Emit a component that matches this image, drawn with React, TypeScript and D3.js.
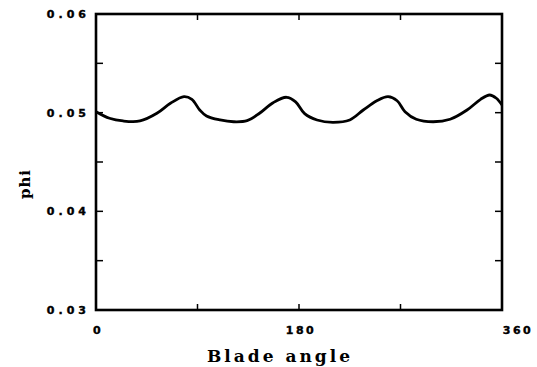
import React, { useEffect, useRef } from "react";
import * as d3 from "d3";

// blade angle (deg) and flow coefficient
const angle = [0, 12, 24, 39, 54, 66, 78, 85, 92, 98, 110, 122, 134, 145, 157, 169, 177, 185, 196, 210, 225, 237, 249, 259, 267, 274, 284, 299, 314, 329, 341, 349, 355, 360];
const phi = [0.0501, 0.04943, 0.04916, 0.04916, 0.04994, 0.05095, 0.05162, 0.05135, 0.05027, 0.04966, 0.04926, 0.04908, 0.04919, 0.04994, 0.05101, 0.05156, 0.0511, 0.0499, 0.04926, 0.04902, 0.04926, 0.05027, 0.05121, 0.05162, 0.05121, 0.0501, 0.04933, 0.04908, 0.04933, 0.05027, 0.05135, 0.05179, 0.05146, 0.05078];

const xMajor = [0, 180, 360];
const xMinor = [90, 270];
const yMajor = [0.03, 0.04, 0.05, 0.06];
const yMinor = [0.035, 0.045, 0.055];

export default function App() {
  const ref = useRef<SVGSVGElement>(null);

  useEffect(() => {
    const width = 537, height = 367;
    const margin = { top: 14, right: 35, bottom: 57, left: 96 };

    const svg = d3.select(ref.current);
    svg.selectAll("*").remove();

    const x = d3.scaleLinear().domain([0, 360]).range([margin.left, width - margin.right]);
    const y = d3.scaleLinear().domain([0.03, 0.06]).range([height - margin.bottom, margin.top]);

    const [x0, x1] = x.range();
    const [y0, y1] = y.range();

    // inner ticks on all four sides
    const ticks = svg.append("g").attr("stroke", "#000").attr("stroke-width", 1.5);
    [...xMajor.slice(1, -1), ...xMinor].forEach(v => {
      ticks.append("line").attr("x1", x(v)).attr("x2", x(v)).attr("y1", y0).attr("y2", y0 - 6);
      ticks.append("line").attr("x1", x(v)).attr("x2", x(v)).attr("y1", y1).attr("y2", y1 + 6);
    });
    [...yMajor.slice(1, -1), ...yMinor].forEach(v => {
      ticks.append("line").attr("x1", x0).attr("x2", x0 + 7).attr("y1", y(v)).attr("y2", y(v));
      ticks.append("line").attr("x1", x1).attr("x2", x1 - 7).attr("y1", y(v)).attr("y2", y(v));
    });

    svg.append("rect")
      .attr("x", x0).attr("y", y1)
      .attr("width", x1 - x0).attr("height", y0 - y1)
      .attr("fill", "none").attr("stroke", "#000").attr("stroke-width", 2.6);

    const line = d3.line<number>()
      .x((_, i) => x(angle[i]))
      .y(d => y(d))
      .curve(d3.curveCatmullRom);

    svg.append("path")
      .datum(phi)
      .attr("d", line)
      .attr("fill", "none")
      .attr("stroke", "#000")
      .attr("stroke-width", 2.8)
      .attr("stroke-linejoin", "round");

    const tickFont = "'DejaVu Sans', sans-serif";

    svg.append("g").selectAll("text")
      .data(xMajor)
      .enter()
      .append("text")
      .attr("x", (d, i) => x(d) + (i === xMajor.length - 1 ? 16 : 2))
      .attr("y", y0 + 24)
      .attr("text-anchor", "middle")
      .attr("font-family", tickFont)
      .attr("font-weight", "bold")
      .attr("font-size", 11)
      .attr("stroke", "#000")
      .attr("stroke-width", 0.4)
      .attr("letter-spacing", 2.5)
      .text(d => d);

    svg.append("g").selectAll("text")
      .data(yMajor)
      .enter()
      .append("text")
      .attr("x", x0 - 6)
      .attr("y", d => y(d) + 4)
      .attr("text-anchor", "end")
      .attr("font-family", tickFont)
      .attr("font-weight", "bold")
      .attr("font-size", 11)
      .attr("stroke", "#000")
      .attr("stroke-width", 0.4)
      .attr("letter-spacing", 4)
      .text(d => d3.format(".2f")(d));

    svg.append("text")
      .attr("x", 280)
      .attr("y", height - 5)
      .attr("text-anchor", "middle")
      .attr("font-family", "'DejaVu Serif', serif")
      .attr("font-weight", "bold")
      .attr("font-size", 17)
      .attr("letter-spacing", 3)
      .text("Blade angle");

    svg.append("text")
      .attr("transform", `translate(30,184) rotate(-90)`)
      .attr("text-anchor", "middle")
      .attr("font-family", "'DejaVu Serif', serif")
      .attr("font-weight", "bold")
      .attr("font-size", 15)
      .attr("letter-spacing", 1)
      .text("phi");
  }, []);

  return (
    <svg ref={ref} width={537} height={367}
      style={{ position: "absolute", left: 0, top: 0, background: "#fff" }} />
  );
}
